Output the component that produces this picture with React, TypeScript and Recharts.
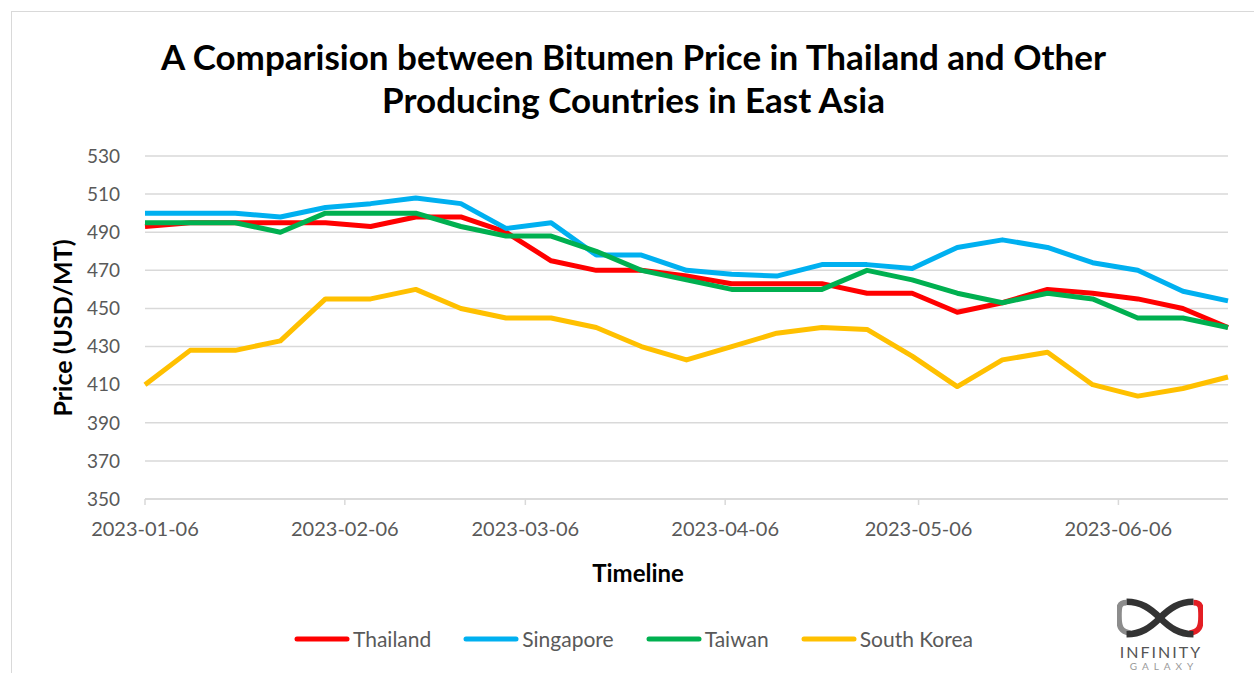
import React from "react";
import { LineChart, Line, XAxis, YAxis, CartesianGrid, Legend } from "recharts";

const weeks = [
  "2023-01-06", "2023-01-13", "2023-01-20", "2023-01-27",
  "2023-02-03", "2023-02-10", "2023-02-17", "2023-02-24",
  "2023-03-03", "2023-03-10", "2023-03-17", "2023-03-24", "2023-03-31",
  "2023-04-07", "2023-04-14", "2023-04-21", "2023-04-28",
  "2023-05-05", "2023-05-12", "2023-05-19", "2023-05-26",
  "2023-06-02", "2023-06-09", "2023-06-16", "2023-06-23",
];

const thailand = [493, 495, 495, 495, 495, 493, 498, 498, 490, 475, 470, 470, 467, 463, 463, 463, 458, 458, 448, 453, 460, 458, 455, 450, 440];
const singapore = [500, 500, 500, 498, 503, 505, 508, 505, 492, 495, 478, 478, 470, 468, 467, 473, 473, 471, 482, 486, 482, 474, 470, 459, 454];
const taiwan = [495, 495, 495, 490, 500, 500, 500, 493, 488, 488, 480, 470, 465, 460, 460, 460, 470, 465, 458, 453, 458, 455, 445, 445, 440];
const southKorea = [410, 428, 428, 433, 455, 455, 460, 450, 445, 445, 440, 430, 423, 430, 437, 440, 439, 425, 409, 423, 427, 410, 404, 408, 414];

const xTickLabels = ["2023-01-06", "2023-02-06", "2023-03-06", "2023-04-06", "2023-05-06", "2023-06-06"];
const yTicks = [350, 370, 390, 410, 430, 450, 470, 490, 510, 530];

const series = [
  { key: "Thailand", values: thailand, color: "#FF0000" },
  { key: "Singapore", values: singapore, color: "#00B0F0" },
  { key: "Taiwan", values: taiwan, color: "#00B050" },
  { key: "South Korea", values: southKorea, color: "#FFC000" },
];

const data = weeks.map((w, i) => {
  const row: Record<string, number | string> = { t: Date.parse(w), date: w };
  series.forEach((s) => {
    row[s.key] = s.values[i];
  });
  return row;
});

const xTicks = xTickLabels.map((d) => Date.parse(d));
const fmt = (v: number) => new Date(v).toISOString().slice(0, 10);

const FONT = "Lato, 'Open Sans', 'DejaVu Sans', sans-serif";
const W = 1243;
const H = 662;

const LegendContent = () => (
  <div
    style={{
      display: "flex",
      justifyContent: "center",
      alignItems: "center",
      gap: 32,
      paddingLeft: 0,
      fontFamily: FONT,
      fontSize: 21,
      lineHeight: "24px",
      color: "#595959",
    }}
  >
    {series.map((s) => (
      <div key={s.key} style={{ display: "flex", alignItems: "center" }}>
        <svg width={56} height={10} style={{ marginRight: 3 }}>
          <line x1={3} y1={5} x2={53} y2={5} stroke={s.color} strokeWidth={5} strokeLinecap="round" />
        </svg>
        <span>{s.key}</span>
      </div>
    ))}
  </div>
);

const Logo = () => (
  <div style={{ position: "absolute", left: 1101, top: 583, width: 94, textAlign: "center", fontFamily: FONT }}>
    <svg width={86} height={46} viewBox="0 0 90 44">
      <path d="M10 6 C2 6 2 10 2 20 C2 32 4 36 14 38" stroke="#8c8c8c" strokeWidth={6} fill="none" />
      <path d="M80 6 C88 6 88 10 88 20 C88 32 86 36 76 38" stroke="#e31e24" strokeWidth={6} fill="none" />
      <path d="M10 5 C25 5 35 12 45 22 C55 32 65 39 80 39" stroke="#333333" strokeWidth={7} fill="none" />
      <path d="M10 39 C25 39 35 32 45 22 C55 12 65 5 80 5" stroke="#333333" strokeWidth={7} fill="none" />
    </svg>
    <div style={{ fontSize: 16, color: "#555", letterSpacing: 2, lineHeight: "16px", marginTop: 0, paddingLeft: 2 }}>INFINITY</div>
    <div style={{ fontSize: 10, color: "#999", letterSpacing: 5, lineHeight: "12px", paddingLeft: 8 }}>GALAXY</div>
  </div>
);

export default function App() {
  return (
    <div
      style={{
        position: "absolute",
        left: 11,
        top: 11,
        width: W,
        height: H,
        borderLeft: "1.5px solid #d9d9d9",
        borderTop: "1.5px solid #d9d9d9",
        background: "#fff",
        fontFamily: FONT,
        overflow: "hidden",
      }}
    >
      <div
        style={{
          position: "absolute",
          left: 0,
          top: 23,
          width: W,
          textAlign: "center",
          fontFamily: FONT,
          fontWeight: 700,
          fontSize: 35,
          lineHeight: "43px",
          color: "#000",
        }}
      >
        <div>A Comparision between Bitumen Price in Thailand and Other</div>
        <div>Producing Countries in East Asia</div>
      </div>
      <LineChart width={W} height={H} data={data} margin={{ top: 144, right: 27, left: 0, bottom: 121 }}>
        <CartesianGrid horizontal vertical={false} stroke="#d9d9d9" strokeWidth={1.5} />
        <XAxis
          dataKey="t"
          type="number"
          domain={[Date.parse(weeks[0]), Date.parse(weeks[weeks.length - 1])]}
          ticks={xTicks}
          interval={0}
          tickFormatter={fmt}
          stroke="#d9d9d9"
          strokeWidth={1.5}
          tickSize={6}
          tickMargin={17}
          height={30}
          tick={{ fill: "#595959", fontSize: 20, fontFamily: FONT }}
          label={{
            content: () => (
              <text x={626} y={560} textAnchor="middle" dominantBaseline="central" fontWeight={700} fontSize={24} fontFamily={FONT} fill="#000">
                Timeline
              </text>
            ),
          }}
        />
        <YAxis
          type="number"
          domain={[350, 530]}
          ticks={yTicks}
          interval={0}
          width={133}
          axisLine={false}
          tickLine={false}
          tickSize={0}
          tickMargin={25}
          tick={{ fill: "#595959", fontSize: 19, fontFamily: FONT }}
          label={{
            content: () => (
              <text x={50} y={316} transform="rotate(-90 50 316)" textAnchor="middle" dominantBaseline="central" fontWeight={700} fontSize={25} fontFamily={FONT} fill="#000">
                Price (USD/MT)
              </text>
            ),
          }}
        />
        <Legend content={<LegendContent />} wrapperStyle={{ top: 615, left: 0, width: W }} />
        {series.map((s) => (
          <Line
            key={s.key}
            dataKey={s.key}
            name={s.key}
            type="linear"
            stroke={s.color}
            strokeWidth={5}
            dot={false}
            activeDot={false}
            isAnimationActive={false}
            strokeLinejoin="round"
          />
        ))}
      </LineChart>
      <Logo />
    </div>
  );
}
